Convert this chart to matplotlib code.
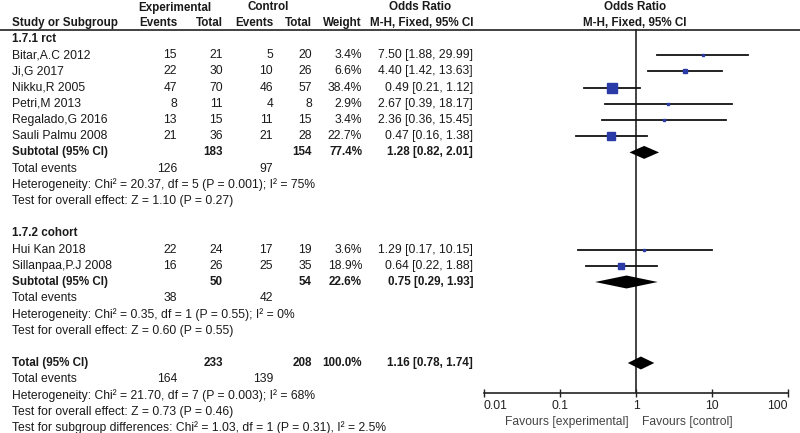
import matplotlib
matplotlib.use("Agg")
import matplotlib.pyplot as plt
import numpy as np

plt.rcParams['font.family'] = ['Liberation Sans', 'DejaVu Sans']

# --- data ---
rct_names = ['Bitar,A.C 2012', 'Ji,G 2017', 'Nikku,R 2005', 'Petri,M 2013',
             'Regalado,G 2016', 'Sauli Palmu 2008']
rct_exp_events = [15, 22, 47, 8, 13, 21]
rct_exp_total = [21, 30, 70, 11, 15, 36]
rct_ctl_events = [5, 10, 46, 4, 11, 21]
rct_ctl_total = [20, 26, 57, 8, 15, 28]
rct_weight = [3.4, 6.6, 38.4, 2.9, 3.4, 22.7]
rct_or = [7.50, 4.40, 0.49, 2.67, 2.36, 0.47]
rct_lo = [1.88, 1.42, 0.21, 0.39, 0.36, 0.16]
rct_hi = [29.99, 13.63, 1.12, 18.17, 15.45, 1.38]

coh_names = ['Hui Kan 2018', 'Sillanpaa,P.J 2008']
coh_exp_events = [22, 16]
coh_exp_total = [24, 26]
coh_ctl_events = [17, 25]
coh_ctl_total = [19, 35]
coh_weight = [3.6, 18.9]
coh_or = [1.29, 0.64]
coh_lo = [0.17, 0.22]
coh_hi = [10.15, 1.88]

# subtotal / total rows: rct, cohort, overall
sum_labels = ['Subtotal (95% CI)', 'Subtotal (95% CI)', 'Total (95% CI)']
sum_exp_total = [183, 50, 233]
sum_ctl_total = [154, 54, 208]
sum_weight = ['77.4%', '22.6%', '100.0%']
sum_or = [1.28, 0.75, 1.16]
sum_lo = [0.82, 0.29, 0.78]
sum_hi = [2.01, 1.93, 1.74]
sum_exp_events = [126, 38, 164]
sum_ctl_events = [97, 42, 139]
het_text = ['Heterogeneity: Chi² = 20.37, df = 5 (P = 0.001); I² = 75%',
            'Heterogeneity: Chi² = 0.35, df = 1 (P = 0.55); I² = 0%',
            'Heterogeneity: Chi² = 21.70, df = 7 (P = 0.003); I² = 68%']
eff_text = ['Test for overall effect: Z = 1.10 (P = 0.27)',
            'Test for overall effect: Z = 0.60 (P = 0.55)',
            'Test for overall effect: Z = 0.73 (P = 0.46)']
subgroup_text = 'Test for subgroup differences: Chi² = 1.03, df = 1 (P = 0.31), I² = 2.5%'
group_names = ['1.7.1 rct', '1.7.2 cohort']

xticks = [0.01, 0.1, 1, 10, 100]
xtick_labels = ['0.01', '0.1', '1', '10', '100']

# --- layout ---
W, H = 800, 433
fig = plt.figure(figsize=(W / 100, H / 100), dpi=100)
y0, dy = 39, 16.2           # first row centre and row pitch (px)
def row_of(px):
    return (px - y0) / dy

fs = 8.7
fs_b = 8.35
tc = '#1a1a1a'
sq_col = '#2a3aa6'

tab = fig.add_axes([0, 0, 1, 1])
tab.set_xlim(0, W)
tab.set_ylim(row_of(H), row_of(0))
tab.axis('off')

ax = fig.add_axes([484 / W, (H - 393) / H, (788 - 484) / W, (393 - 29) / H])
ax.set_xscale('log')
ax.set_xlim(0.01, 100)
ax.set_ylim(row_of(393), row_of(29))

# column right edges (px)
c_ee, c_et, c_ce, c_ct, c_w, c_or = 177, 223, 273, 312, 362, 473
x_name = 12

def put(x, y, s, ha='right', bold=False, color=tc):
    tab.text(x, y, s, ha=ha, va='center', fontsize=fs_b if bold else fs,
             color=color, fontweight='bold' if bold else 'normal')

# headers
hr1, hr2 = row_of(7.5), row_of(23)
put(175, hr1, 'Experimental', ha='center', bold=True)
put(268, hr1, 'Control', ha='center', bold=True)
put(420, hr1, 'Odds Ratio', ha='center', bold=True)
put(635, hr1, 'Odds Ratio', ha='center', bold=True)
put(x_name, hr2, 'Study or Subgroup', ha='left', bold=True)
for x, s in [(c_ee, 'Events'), (c_et, 'Total'), (c_ce, 'Events'),
             (c_ct, 'Total'), (c_w, 'Weight'), (c_or, 'M-H, Fixed, 95% CI')]:
    put(x, hr2, s, bold=True)
put(635, hr2, 'M-H, Fixed, 95% CI', ha='center', bold=True)
tab.axhline(row_of(29.5), color='#333333', lw=1.3)

def marker_size(w):
    return 1.5 * np.sqrt(w) * 0.72

def draw_group(start, names, ee, et, ce, ct, wt, orv, lo, hi, k):
    put(x_name, start, group_names[k], ha='left', bold=True)
    for j, nm in enumerate(names):
        r = start + 1 + j
        put(x_name, r, nm, ha='left')
        put(c_ee, r, str(ee[j]))
        put(c_et, r, str(et[j]))
        put(c_ce, r, str(ce[j]))
        put(c_ct, r, str(ct[j]))
        put(c_w, r, f'{wt[j]:.1f}%')
        put(c_or, r, f'{orv[j]:.2f} [{lo[j]:.2f}, {hi[j]:.2f}]')
        ax.plot([lo[j], hi[j]], [r, r], color='#111111', lw=1.3, zorder=2)
        ax.plot(orv[j], r, marker='s', ms=marker_size(wt[j]), color=sq_col,
                mec=sq_col, zorder=3)
    return start + 1 + len(names)

def draw_summary(r, k):
    put(x_name, r, sum_labels[k], ha='left', bold=True)
    put(c_et, r, str(sum_exp_total[k]), bold=True)
    put(c_ct, r, str(sum_ctl_total[k]), bold=True)
    put(c_w, r, sum_weight[k], bold=True)
    put(c_or, r, f'{sum_or[k]:.2f} [{sum_lo[k]:.2f}, {sum_hi[k]:.2f}]', bold=True)
    hh = 0.4
    ax.fill([sum_lo[k], sum_or[k], sum_hi[k], sum_or[k]],
            [r, r - hh, r, r + hh], color='black', zorder=4, lw=0)
    put(x_name, r + 1, 'Total events', ha='left')
    put(c_ee, r + 1, str(sum_exp_events[k]))
    put(c_ce, r + 1, str(sum_ctl_events[k]))
    put(x_name, r + 2, het_text[k], ha='left')
    put(x_name, r + 3, eff_text[k], ha='left')

r = draw_group(0, rct_names, rct_exp_events, rct_exp_total, rct_ctl_events,
               rct_ctl_total, rct_weight, rct_or, rct_lo, rct_hi, 0)
draw_summary(r, 0)
r = draw_group(r + 5, coh_names, coh_exp_events, coh_exp_total, coh_ctl_events,
               coh_ctl_total, coh_weight, coh_or, coh_lo, coh_hi, 1)
draw_summary(r, 1)
draw_summary(r + 5, 2)
put(x_name, r + 9, subgroup_text, ha='left')

# forest axis styling
ax.axvline(1, color='#222222', lw=1.2, zorder=1)
for s in ['top', 'left', 'right']:
    ax.spines[s].set_visible(False)
ax.spines['bottom'].set_color('#222222')
ax.spines['bottom'].set_linewidth(1.2)
ax.set_yticks([])
ax.set_xticks(xticks)
ax.set_xticklabels(xtick_labels)
ax.minorticks_off()
ax.tick_params(axis='x', direction='inout', length=6, width=1.0, pad=2,
               labelsize=fs, colors='#222222')
tl = ax.get_xticklabels()
tl[0].set_ha('left')
tl[-1].set_ha('right')
ax.patch.set_alpha(0)

fav_y = row_of(422)
put(629, fav_y, 'Favours [experimental]', ha='right', color='#444444')
put(642, fav_y, 'Favours [control]', ha='left', color='#444444')

fig.savefig('out.png', dpi=100)
